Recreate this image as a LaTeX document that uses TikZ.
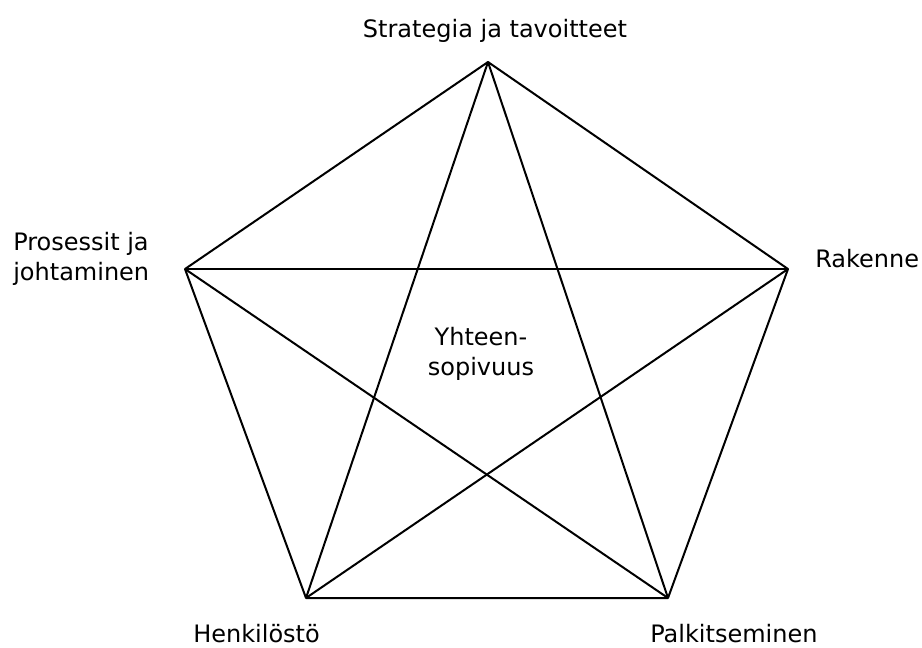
\documentclass[tikz,border=0pt]{standalone}
\usepackage{fontspec}
\setmainfont{DejaVu Sans}
\begin{document}
\begin{tikzpicture}[x=0.75pt,y=-0.75pt]
		\tikzset{corner label/.style={font=\fontsize{18}{22}\selectfont, inner sep=0pt}}
		\useasboundingbox (0,0) rectangle (922,647);	% page frame
		
		% pentagon corners
		\coordinate (top) at (488,62);
		\coordinate (right) at (788,269);
		\coordinate (bright) at (668,598);
		\coordinate (bleft) at (306,598);
		\coordinate (left) at (185,269);
		
		% outer pentagon
		\draw[line width=1.5pt, line join=round] (top) -- (right) -- (bright) -- (bleft) -- (left) -- cycle;
		
		% inner star
		\draw[line width=1.5pt] (top) -- (bright);
		\draw[line width=1.5pt] (top) -- (bleft);
		\draw[line width=1.5pt] (left) -- (right);
		\draw[line width=1.5pt] (left) -- (bright);
		\draw[line width=1.5pt] (right) -- (bleft);
		
		% labels
		\node[corner label, anchor=base] (strategia) at (495,37) {Strategia ja tavoitteet};
		\node[corner label, anchor=base west, align=left] (prosessit) at (13,280) {Prosessit ja\\johtaminen};
		\node[corner label, anchor=base west] (rakenne) at (815,267) {Rakenne};
		\node[corner label, anchor=base, align=center] (yhteen) at (481,375) {Yhteen-\\sopivuus};
		\node[corner label, anchor=base west] (henkilosto) at (193,642) {Henkilöstö};
		\node[corner label, anchor=base west] (palkitseminen) at (650,642) {Palkitseminen};
\end{tikzpicture}
\end{document}
